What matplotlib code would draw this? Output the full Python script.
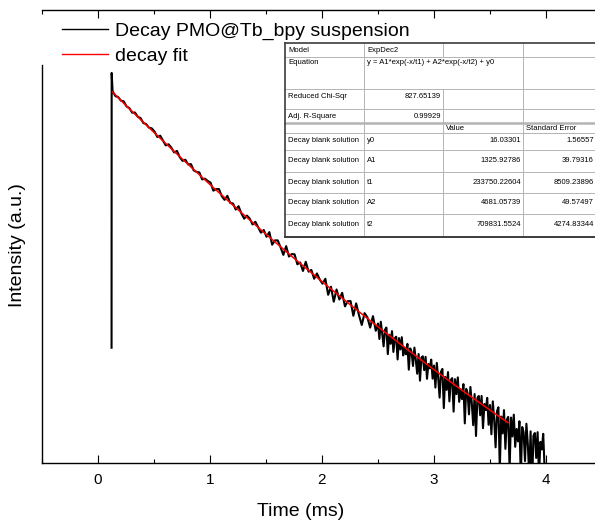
import numpy as np
import matplotlib
matplotlib.use('Agg')
import matplotlib.pyplot as plt
from matplotlib.ticker import MultipleLocator, NullLocator
from matplotlib.patches import Rectangle

plt.rcParams['font.family'] = ['Liberation Sans', 'DejaVu Sans']

# ---------------- data ----------------
# trigger spike (time in ms, intensity in a.u.)
spike_t = [0.121, 0.122]
spike_I = [58, 3830]

# decay trace, part A: t = 0.13 ms onward, step 0.025 ms
decay_a_start, decay_a_step = 0.13, 0.025
decay_a = [2907, 2693, 2649, 2510, 2482,
           2299, 2240, 2090, 2094, 1965, 1924, 1784, 1756, 1663, 1645,
           1564, 1442, 1472, 1365, 1269, 1290, 1225, 1139, 1166, 1060,
           1002, 1019, 949, 953, 866, 847, 840, 755, 764, 738,
           719, 636, 651, 652, 585, 553, 588, 528, 523, 477,
           502, 450, 415, 435, 415, 380, 396, 364, 335, 349,
           315, 338, 279, 298, 298, 268, 239, 273, 233, 242,
           241, 207, 213, 187, 215, 185, 190, 166, 180, 164,
           154, 166, 130, 147, 117, 141, 121, 134, 109, 118,
           118, 94.4, 114, 95.5, 82.0, 98.3, 92.3, 78.8, 93.9, 75.1]

# decay trace, part B: t = 2.50 ms onward, step 0.0125 ms
decay_b_start, decay_b_step = 2.50, 0.0125
decay_b = [83.9, 66.3, 86.2, 72.0, 59.2, 76.4, 78.9, 52.6, 70.8, 61.6,
           74.7, 54.4, 67.1, 68.6, 48.5, 67.2, 56.5, 68.1, 51.6, 58.3,
           52.5, 61.5, 41.5, 57.4, 54.4, 43.9, 58.1, 48.2, 39.0, 52.7,
           35.1, 49.8, 50.9, 41.2, 50.5, 36.1, 45.3, 42.3, 48.4, 36.2,
           44.2, 31.6, 46.0, 36.6, 27.1, 40.2, 42.0, 23.1, 37.2, 30.5,
           40.0, 25.6, 35.5, 36.5, 21.9, 35.9, 28.6, 36.9, 25.4, 30.8,
           26.5, 33.3, 18.3, 31.0, 29.0, 21.0, 31.9, 24.9, 17.8, 28.6,
           15.1, 26.9, 27.8, 20.7, 27.8, 17.0, 24.6, 22.4, 27.0, 17.9,
           24.2, 15.5, 25.6, 19.3, 12.7, 22.0, 23.4, 9.1, 20.3, 15.7,
           22.4, 12.4, 19.4, 20.2, 9.1, 20.0, 15.0, 20.9, 12.8, 16.8,
           13.9, 18.9, 8.1, 17.3, 16.0, 10.3, 18.2, 13.4, 8.3, 16.2,
           6.5, 15.1, 15.8, 10.8, 16.0, 8.2, 13.8, 12.3, 15.6, 9.2, 7.5]

# fit curve
fit_t = [0.13, 0.25, 0.5, 0.75, 1.0, 1.25, 1.5, 1.75, 2.0, 2.25, 2.5,
         2.75, 3.0, 3.25, 3.5, 3.66]
fit_I = [2864, 2328, 1545, 1035, 698, 476, 327, 227, 159, 112, 79.8,
         57.3, 41.5, 30.3, 22.4, 18.5]

series_labels = ["Decay PMO@Tb_bpy suspension", "decay fit"]
x_ticks = [0, 1, 2, 3, 4]

# fit report table
table_rows = [
    ["Model", "ExpDec2", "", ""],
    ["Equation", "y = A1*exp(-x/t1) + A2*exp(-x/t2) + y0", "", ""],
    ["Reduced Chi-Sqr", "827.65139", "", ""],
    ["Adj. R-Square", "0.99929", "", ""],
    ["", "", "Value", "Standard Error"],
    ["Decay blank solution", "y0", "16.03301", "1.56557"],
    ["Decay blank solution", "A1", "1325.92786", "39.79316"],
    ["Decay blank solution", "t1", "233750.22604", "8509.23896"],
    ["Decay blank solution", "A2", "4681.05739", "49.57497"],
    ["Decay blank solution", "t2", "709831.5524", "4274.83344"],
]

# ---------------- figure ----------------
W, H = 595, 520
fig = plt.figure(figsize=(W / 100, H / 100), dpi=100)
ax_l, ax_r, ax_t, ax_b = 42, 602, 10, 463
ax = fig.add_axes([ax_l / W, 1 - ax_b / H, (ax_r - ax_l) / W, (ax_b - ax_t) / H])

t_a = decay_a_start + decay_a_step * np.arange(len(decay_a))
t_b = decay_b_start + decay_b_step * np.arange(len(decay_b))
trace_t = np.concatenate([spike_t, t_a, t_b])
trace_I = np.concatenate([spike_I, decay_a, decay_b])

ax.plot(trace_t, trace_I, color='black', lw=1.5, label=series_labels[0])
ax.plot(fit_t, fit_I, color='#ff0000', lw=1.1, label=series_labels[1])

ax.set_yscale('log')
ax.set_xlim(-0.5, 4.5)
ax.set_ylim(10, 10000)
ax.yaxis.set_major_locator(NullLocator())
ax.yaxis.set_minor_locator(NullLocator())
ax.set_xticks(x_ticks)
ax.xaxis.set_minor_locator(MultipleLocator(0.5))
ax.tick_params(axis='x', which='both', direction='in', top=True, bottom=True,
               labelsize=11, pad=7, width=0.8, color='black')
ax.tick_params(axis='x', which='major', length=5.8)
ax.tick_params(axis='x', which='minor', length=2.9)
for s in ax.spines.values():
    s.set_linewidth(1.0)
# left spine hidden behind the legend block
ax.spines['left'].set_bounds(10, 10 ** (1 + (463 - 65) / 151))

ax.set_xlabel('Time (ms)', fontsize=14)
ax.xaxis.set_label_coords((301 - ax_l) / (ax_r - ax_l), (ax_b - 512) / (ax_b - ax_t))
ax.xaxis.label.set_verticalalignment('center')
ax.set_ylabel('Intensity (a.u.)', fontsize=14)
ax.yaxis.set_label_coords((18 - ax_l) / (ax_r - ax_l), (ax_b - 245) / (ax_b - ax_t))
ax.yaxis.label.set_verticalalignment('center')

leg = ax.legend(loc='upper left', frameon=False, fontsize=14,
                bbox_to_anchor=((58 - ax_l) / (ax_r - ax_l), (ax_b - 18) / (ax_b - ax_t)),
                borderpad=0.2, borderaxespad=0, labelspacing=0.4,
                handlelength=2.37, handletextpad=0.36)
for ln in leg.get_lines():
    ln.set_linewidth(1.0)

# ---------------- table overlay ----------------
ov = fig.add_axes([0, 0, 1, 1], zorder=10)
ov.set_xlim(0, W)
ov.set_ylim(H, 0)
ov.axis('off')
ov.patch.set_alpha(0)

col_x = [285, 364, 443, 523, 602]
row_y = [43, 57, 89, 109, 123, 133, 150, 172, 193, 214, 237]
text_y = [50, 63, 96, 116, 128, 141, 161, 182, 203, 224]
last_col_right = 594
grid_c = '#b4b4b4'
dark_c = '#3c3c3c'

ov.add_patch(Rectangle((col_x[0], row_y[0]), col_x[-1] - col_x[0], row_y[-1] - row_y[0],
                       facecolor='white', edgecolor='none'))
for i, y in enumerate(row_y[1:-1], start=1):
    lw = 1.8 if i == 4 else 0.7
    ov.plot([col_x[0], col_x[-1]], [y, y], color=grid_c, lw=lw)
for j, x in enumerate(col_x[1:-1], start=1):
    if j == 2:
        ov.plot([x, x], [row_y[0], row_y[1]], color=grid_c, lw=0.7)
        ov.plot([x, x], [row_y[2], row_y[-1]], color=grid_c, lw=0.7)
    else:
        ov.plot([x, x], [row_y[0], row_y[-1]], color=grid_c, lw=0.7)
ov.plot([col_x[0], col_x[-1]], [row_y[0], row_y[0]], color=dark_c, lw=1.2)
ov.plot([col_x[0], col_x[-1]], [row_y[-1], row_y[-1]], color=dark_c, lw=1.4)
ov.plot([col_x[0], col_x[0]], [row_y[0], row_y[-1]], color=dark_c, lw=1.2)


def is_num(s):
    try:
        float(s)
        return True
    except ValueError:
        return False


for r, row in enumerate(table_rows):
    for c, txt in enumerate(row):
        if not txt:
            continue
        if is_num(txt):
            right = last_col_right if c == 3 else col_x[c + 1] - 2
            ov.text(right, text_y[r], txt, fontsize=5.5, ha='right', va='center')
        else:
            ov.text(col_x[c] + 3, text_y[r], txt, fontsize=5.5, ha='left', va='center')

fig.savefig('out.png', dpi=100)
